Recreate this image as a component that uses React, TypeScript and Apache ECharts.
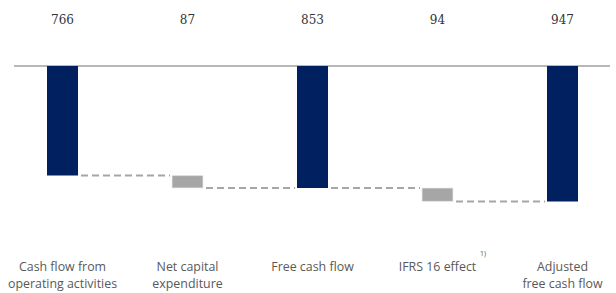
import React, { useEffect, useRef } from "react";
import * as echarts from "echarts";

const categories = [
  "Cash flow from\noperating activities",
  "Net capital\nexpenditure",
  "Free cash flow",
  "IFRS 16 effect",
  "Adjusted\nfree cash flow",
];
const values = [766, 87, 853, 94, 947];
const isTotal = [true, false, true, false, true];
const valueLabels = ["766", "87", "853", "94", "947"];

const NAVY = "#002060";
const GREY = "#a6a6a6";

export default function App() {
  const ref = useRef<HTMLDivElement>(null);
  useEffect(() => {
    document.body.style.margin = "0";
    if (!ref.current) return;
    const chart = echarts.init(ref.current, undefined, { renderer: "svg" });

    // waterfall bases
    const bases: number[] = [];
    const ends: number[] = [];
    let run = 0;
    values.forEach((v, i) => {
      if (isTotal[i]) {
        bases.push(0);
        run = v;
      } else {
        bases.push(run);
        run = run + v;
      }
      ends.push(isTotal[i] ? v : bases[i] + v);
    });
    const connectors = ends.slice(0, -1).map((e, i) => [i, e]);

    chart.setOption({
      animation: false,
      grid: { left: 0, width: 625, top: 66, height: 143, outerBoundsMode: "none", containLabel: false },
      xAxis: [
        {
          type: "category",
          position: "top",
          data: valueLabels,
          axisLine: { show: false },
          axisTick: { show: false },
          axisLabel: {
            margin: 40,
            fontSize: 12,
            color: "#333333",
            fontFamily: "DejaVu Serif",
          },
        },
        {
          type: "category",
          position: "bottom",
          data: categories,
          axisLine: { show: false },
          axisTick: { show: false },
          axisLabel: {
            margin: 49,
            fontSize: 12.4,
            lineHeight: 17,
            color: "#595959",
            fontFamily: "Open Sans",
            interval: 0,
          },
        },
      ],
      yAxis: {
        type: "value",
        inverse: true,
        min: 0,
        max: 1000,
        show: false,
        splitLine: { show: false },
      },
      series: [
        {
          type: "bar",
          stack: "w",
          data: bases,
          barWidth: 31,
          itemStyle: { color: "transparent" },
          silent: true,
        },
        {
          type: "bar",
          stack: "w",
          barWidth: 31,
          data: values.map((v, i) => ({
            value: v,
            itemStyle: isTotal[i]
              ? { color: NAVY }
              : { color: GREY, borderColor: "#c8c8c8", borderWidth: 0.5 },
          })),
        },
        {
          type: "custom",
          data: connectors,
          encode: { x: 0, y: 1 },
          clip: false,
          z: 1,
          renderItem: (params: any, api: any) => {
            const i = api.value(0);
            const level = api.value(1);
            const p0 = api.coord([i, level]);
            const p1 = api.coord([i + 1, level]);
            const half = 15.5;
            const children: any[] = [
              {
                type: "line",
                shape: { x1: p0[0] + half + 3, y1: p0[1], x2: p1[0] - half - 2, y2: p1[1] },
                style: { stroke: GREY, lineWidth: 2, lineDash: [7, 4] },
              },
            ];
            if (i === 0) {
              const y0 = api.coord([0, 0])[1];
              children.push({
                type: "line",
                shape: { x1: 14, y1: y0, x2: 610, y2: y0 },
                style: { stroke: "#a0a0a0", lineWidth: 1.5 },
              });
            }
            return { type: "group", children };
          },
        },
      ],
      graphic: [
        {
          type: "text",
          left: 480,
          top: 250,
          style: { text: "1)", fontSize: 7, fill: "#595959", fontFamily: "Open Sans" },
        },
      ],
    });
    return () => chart.dispose();
  }, []);
  return <div ref={ref} style={{ width: 616, height: 293 }} />;
}
